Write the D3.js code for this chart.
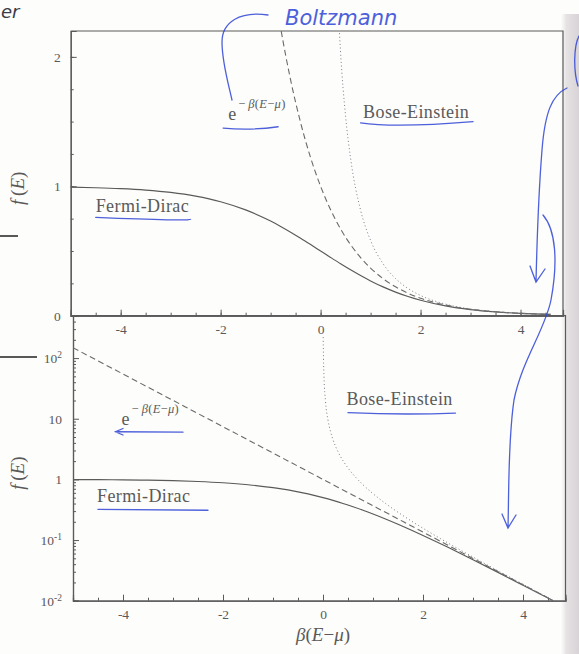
<!DOCTYPE html>
<html>
<head>
<meta charset="utf-8">
<script src="https://cdn.jsdelivr.net/npm/d3@7/dist/d3.min.js"></script>
<style>
  html, body { margin: 0; padding: 0; background: #fdfdfb; }
  svg { display: block; }
</style>
</head>
<body>
<div id="chart"></div>
<script>
// sample points, beta(E - mu)
const energy = [-5, -4.5, -4, -3.5, -3, -2.5, -2, -1.5, -1, -0.8, -0.6, -0.4, -0.2, 0,
  0.2, 0.4, 0.6, 0.8, 1, 1.25, 1.5, 1.75, 2, 2.5, 3, 3.5, 4, 4.6];
const fermiDirac = [0.9933, 0.989, 0.982, 0.9707, 0.9526, 0.9241, 0.8808, 0.8176, 0.7311, 0.69, 0.6457, 0.5987, 0.5498, 0.5,
  0.4502, 0.4013, 0.3543, 0.31, 0.2689, 0.2227, 0.1824, 0.148, 0.1192, 0.0759, 0.0474, 0.0293, 0.018, 0.01];
const boltzmann = [148.4, 90.02, 54.6, 33.12, 20.09, 12.18, 7.389, 4.482, 2.718, 2.226, 1.822, 1.492, 1.221, 1,
  0.8187, 0.6703, 0.5488, 0.4493, 0.3679, 0.2865, 0.2231, 0.1738, 0.1353, 0.0821, 0.0498, 0.0302, 0.0183, 0.0101];
const boseEnergy = [0.0045, 0.005, 0.01, 0.02, 0.05, 0.1, 0.15, 0.2, 0.3, 0.4, 0.5, 0.6, 0.8, 1,
  1.25, 1.5, 1.75, 2, 2.5, 3, 3.5, 4, 4.6];
const boseEinstein = [221.7, 199.5, 99.5, 49.5, 19.5, 9.508, 6.179, 4.517, 2.858, 2.033, 1.5415, 1.2164, 0.816, 0.582,
  0.4016, 0.2872, 0.2103, 0.1565, 0.0894, 0.0524, 0.0311, 0.0187, 0.0101];

const xTickValues = [-4, -2, 0, 2, 4];
const yTopTicks = [0, 1, 2];
const yLogTicks = [0.01, 0.1, 1, 10, 100];
const yLogBase = ["10", "10", "1", "10", "10"];
const yLogSup = ["-2", "-1", "", "", "2"];

const W = 579, H = 654;
const ink = "#5a5a5a";
const pen = "#2f45d6";
const serif = "'Liberation Serif', 'DejaVu Serif', serif";

const svg = d3.select("#chart").append("svg").attr("width", W).attr("height", H);
const defs = svg.append("defs");

// page shadow at the right edge of the scan
const shade = defs.append("linearGradient").attr("id", "shade").attr("x1", "0%").attr("x2", "100%");
shade.append("stop").attr("offset", "0%").attr("stop-color", "#fdfdfb");
shade.append("stop").attr("offset", "30%").attr("stop-color", "#e6e2e4");
shade.append("stop").attr("offset", "100%").attr("stop-color", "#d8d3d6");
svg.append("rect").attr("x", 561).attr("y", 14).attr("width", 18).attr("height", H - 14).attr("fill", "url(#shade)");

const xTop = d3.scaleLinear().domain([-5, 4.85]).range([70.7, 563]);
const yTop = d3.scaleLinear().domain([0, 2.2]).range([315.7, 31]);
const xBot = d3.scaleLinear().domain([-5, 4.85]).range([73, 565.5]);
const yBot = d3.scaleLog().domain([0.01, 500]).range([600.7, 315.7]);

function clip(id, x, y) {
  defs.append("clipPath").attr("id", id).append("rect")
    .attr("x", x.range()[0]).attr("y", y.range()[1])
    .attr("width", x.range()[1] - x.range()[0]).attr("height", y.range()[0] - y.range()[1]);
}
clip("clipTop", xTop, yTop);
clip("clipBot", xBot, yBot);

function styleAxis(g) {
  g.select(".domain").attr("stroke", ink).attr("stroke-width", 1.2);
  g.selectAll(".tick line").attr("stroke", ink).attr("stroke-width", 1);
  g.selectAll("text").attr("font-family", serif).attr("font-size", 13.5).attr("fill", ink);
}

function drawPanel(x, y, isLog, clipId) {
  const p = svg.append("g");
  const [x0, x1] = x.range();
  const [y0, y1] = y.range();

  // frame
  p.append("path").attr("d", `M${x0},${y1}H${x1}V${y0}`).attr("fill", "none")
    .attr("stroke", ink).attr("stroke-width", 1.2);

  // x axis: minor and major ticks pointing inwards
  p.append("g").attr("transform", `translate(0,${y0})`)
    .call(d3.axisBottom(x).tickValues(d3.range(-4.5, 4.8, 0.5)).tickSize(-3).tickFormat(""))
    .call(styleAxis);
  p.append("g").attr("transform", `translate(0,${y0})`)
    .call(d3.axisBottom(x).tickValues(xTickValues).tickSize(-6).tickPadding(9).tickFormat(d => String(d)))
    .call(styleAxis);

  if (!isLog) {
    p.append("g").attr("transform", `translate(${x0},0)`)
      .call(d3.axisLeft(y).tickValues(d3.range(0.25, 2.2, 0.25)).tickSize(-3).tickFormat(""))
      .call(styleAxis);
    p.append("g").attr("transform", `translate(${x0},0)`)
      .call(d3.axisLeft(y).tickValues(yTopTicks).tickSize(-6).tickPadding(10).tickFormat(d => String(d)))
      .call(styleAxis);
  } else {
    const minor = [];
    [0.01, 0.1, 1, 10, 100].forEach(d => { for (let k = 2; k <= 9; k++) if (d * k <= 500) minor.push(d * k); });
    p.append("g").attr("transform", `translate(${x0},0)`)
      .call(d3.axisLeft(y).tickValues(minor).tickSize(-3).tickFormat(""))
      .call(styleAxis);
    p.append("g").attr("transform", `translate(${x0},0)`)
      .call(d3.axisLeft(y).tickValues(yLogTicks).tickSize(-6).tickPadding(11).tickFormat(""))
      .call(styleAxis)
      .call(g => g.selectAll(".tick text").each(function (d, i) {
        const t = d3.select(this).text(yLogBase[i]);
        if (yLogSup[i]) t.append("tspan").attr("dy", "-0.5em").attr("font-size", 9.5).text(yLogSup[i]);
      }));
  }

  // curves
  const line = d3.line().x(d => x(d[0])).y(d => y(d[1])).curve(d3.curveMonotoneX);
  const lines = p.append("g").attr("clip-path", `url(#${clipId})`).attr("fill", "none");
  lines.append("path").datum(d3.zip(energy, fermiDirac)).attr("d", line)
    .attr("stroke", "#5a5a5a").attr("stroke-width", 1.15);
  lines.append("path").datum(d3.zip(energy, boltzmann)).attr("d", line)
    .attr("stroke", "#6a6a6a").attr("stroke-width", 1.1).attr("stroke-dasharray", "6,3.5");
  lines.append("path").datum(d3.zip(boseEnergy, boseEinstein)).attr("d", line)
    .attr("stroke", "#7a7a88").attr("stroke-width", 1).attr("stroke-dasharray", "1,2.6");

  // y label f(E)
  const cy = (y0 + y1) / 2 + 15;
  const fl = p.append("text").attr("transform", `translate(24,${cy}) rotate(-90)`)
    .attr("text-anchor", "middle").attr("font-family", serif).attr("font-size", 19).attr("fill", ink);
  fl.append("tspan").attr("font-style", "italic").text("f");
  fl.append("tspan").text("\u2009(");
  fl.append("tspan").attr("font-style", "italic").text("E");
  fl.append("tspan").text(")");
  return p;
}

const topPanel = drawPanel(xTop, yTop, false, "clipTop");
const botPanel = drawPanel(xBot, yBot, true, "clipBot");

// curve labels
function label(g, x, y, txt) {
  return g.append("text").attr("x", x).attr("y", y).attr("font-family", serif)
    .attr("font-size", 18).attr("letter-spacing", 0.4).attr("fill", ink).text(txt);
}
function expLabel(g, x, y) {
  const t = g.append("text").attr("x", x).attr("y", y).attr("font-family", serif).attr("fill", ink).attr("font-size", 18);
  t.append("tspan").text("e");
  const s = t.append("tspan").attr("dx", 2).attr("dy", -12).attr("font-size", 12.5).attr("letter-spacing", 0.3);
  s.append("tspan").text("\u2212\u2009");
  s.append("tspan").attr("font-style", "italic").text("\u03B2");
  s.append("tspan").text("(");
  s.append("tspan").attr("font-style", "italic").text("E");
  s.append("tspan").text("\u2212");
  s.append("tspan").attr("font-style", "italic").text("\u03BC");
  s.append("tspan").text(")");
  return t;
}

label(topPanel, xTop(-4.5), yTop(0.8), "Fermi-Dirac");
expLabel(topPanel, xTop(-1.85), yTop(1.51));
label(topPanel, xTop(0.85), yTop(1.53), "Bose-Einstein");
label(botPanel, xBot(-4.52), yBot(0.42), "Fermi-Dirac");
expLabel(botPanel, xBot(-4.03), yBot(7.8));
label(botPanel, xBot(0.47), yBot(16.7), "Bose-Einstein");

// x label
const xl = svg.append("text").attr("x", xBot(0)).attr("y", 641).attr("text-anchor", "middle")
  .attr("font-family", serif).attr("font-size", 19).attr("fill", ink);
xl.append("tspan").attr("font-style", "italic").text("\u03B2");
xl.append("tspan").text("(");
xl.append("tspan").attr("font-style", "italic").text("E");
xl.append("tspan").text("\u2212");
xl.append("tspan").attr("font-style", "italic").text("\u03BC");
xl.append("tspan").text(")");

// handwritten annotations on the scan
const notes = svg.append("g").attr("fill", "none").attr("stroke", pen).attr("stroke-width", 1.3)
  .attr("stroke-linecap", "round").attr("opacity", 0.85);
notes.append("path").attr("d", `M${xTop(-4.5)},${yTop(0.76)} Q${xTop(-2.6)},${yTop(0.73)} ${xTop(-2.6)},${yTop(0.745)}`);
notes.append("path").attr("d", `M${xTop(-1.95)},${yTop(1.45)} Q${xTop(-1.4)},${yTop(1.43)} ${xTop(-0.85)},${yTop(1.46)}`);
notes.append("path").attr("d", `M${xTop(0.8)},${yTop(1.49)} Q${xTop(1.5)},${yTop(1.45)} ${xTop(3.05)},${yTop(1.5)}`);
notes.append("path").attr("d", `M${xBot(0.5)},${yBot(12.6)} Q${xBot(1.6)},${yBot(11.5)} ${xBot(2.65)},${yBot(12.4)}`);
notes.append("path").attr("d", `M${xBot(-4.5)},${yBot(0.32)} L${xBot(-2.3)},${yBot(0.31)}`);
notes.append("path").attr("d", `M${xBot(-2.8)},${yBot(6.0)} L${xBot(-4.15)},${yBot(6.1)} M${xBot(-4.0)},${yBot(6.9)} L${xBot(-4.15)},${yBot(6.1)} L${xBot(-4.0)},${yBot(5.4)}`);
// arrow from "Boltzmann" down to the exponential label
notes.append("path").attr("d", "M268,15 C240,11 222,22 222,42 C222,62 228,82 232,100");
// long arrows on the right
notes.append("path").attr("d", "M567,88 C552,95 545,112 542,150 C538,200 537,240 536,282 M530,266 L536,282 L545,269");
notes.append("path").attr("d", "M543,215 C556,230 558,262 551,300 C545,330 522,360 514,400 C508,440 509,490 508,528 M502,514 L508,528 L516,515");
notes.append("path").attr("d", "M579,36 C574,45 573,70 578,86");
svg.append("text").attr("x", 285).attr("y", 25).attr("font-family", "'DejaVu Sans', sans-serif")
  .attr("font-size", 21).attr("font-weight", 200).attr("font-style", "italic").attr("fill", pen).attr("opacity", 0.85)
  .text("Boltzmann");
svg.append("text").attr("x", 1).attr("y", 18).attr("font-family", "'DejaVu Sans', sans-serif")
  .attr("font-size", 18).attr("font-style", "italic").attr("fill", "#3c3c48").text("er");
svg.append("path").attr("d", "M0,236H18M0,357H37").attr("stroke", "#222").attr("stroke-width", 1.6);
</script>
</body>
</html>
